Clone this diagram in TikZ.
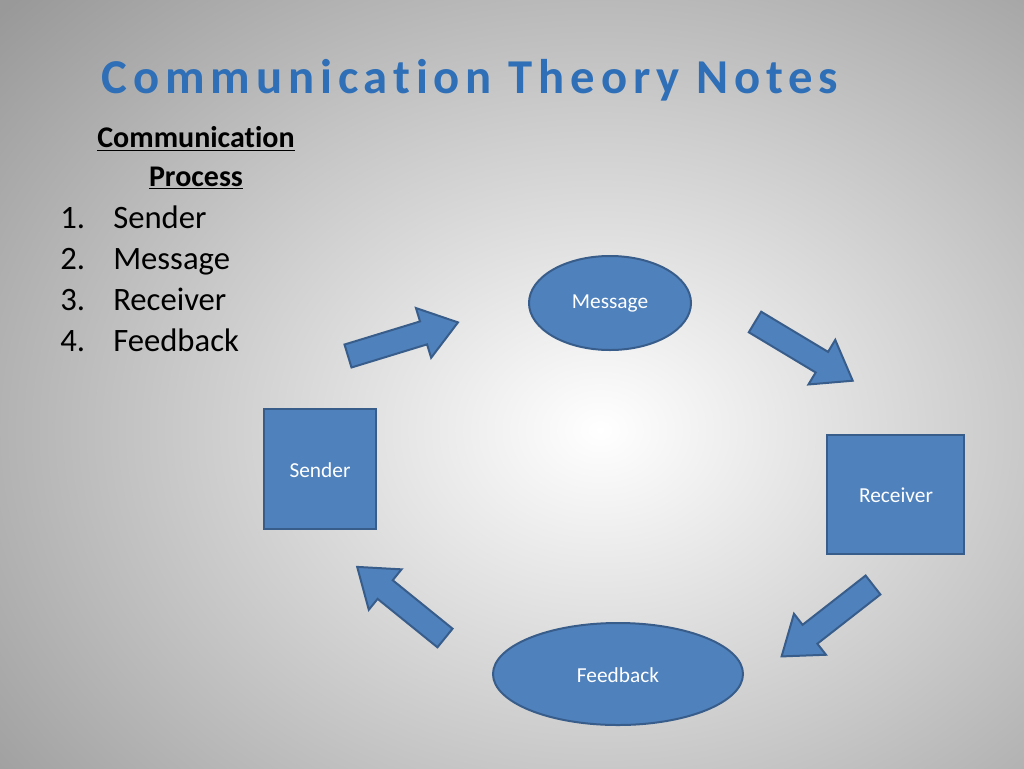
\documentclass[tikz,border=0pt]{standalone}
\usepackage{fontspec}
\setmainfont[Ligatures=NoCommon]{Carlito}
\newfontfamily\titlefont[LetterSpace=12,Ligatures=NoCommon]{Carlito}
\usetikzlibrary{calc}
\definecolor{boxfill}{HTML}{4F81BD}
\definecolor{boxline}{HTML}{385D8A}
\definecolor{titleblue}{HTML}{2E6FB7}
\tikzset{
  shapebox/.style={fill=boxfill,draw=boxline,line width=1.5pt},
  lbl/.style={text=white,font=\fontsize{16}{19}\selectfont},
  listtxt/.style={font=\fontsize{24.5}{28}\selectfont,anchor=base west,inner sep=0}
}
\newcommand{\blockarrow}[3]{%
  \draw[shapebox,shift={(#1)},rotate=#2] (0,-12)--(#3-36,-12)--(#3-36,-26)--(#3,0)--(#3-36,26)--(#3-36,12)--(0,12)--cycle;}
\begin{document}
\begin{tikzpicture}[x=0.75pt,y=-0.75pt]
\useasboundingbox (0,0) rectangle (1024,768);
\shade[inner color=white,outer color=black!40] (-200,-200) rectangle (1400,1060);
\node[font=\titlefont\bfseries\fontsize{36.5}{40}\selectfont,text=titleblue,inner sep=0] (title) at (470,80) {Communication Theory Notes};
\node[font=\bfseries\fontsize{22.5}{27}\selectfont,align=center,inner sep=0] (hdr) at (196,158) {\underline{Communication}\\[2pt]\underline{Process}};
\node[listtxt] (n1) at (60,228) {1.}; \node[listtxt] (i1) at (113,228) {Sender};
\node[listtxt] (n2) at (60,269) {2.}; \node[listtxt] (i2) at (113,269) {Message};
\node[listtxt] (n3) at (60,310) {3.}; \node[listtxt] (i3) at (113,310) {Receiver};
\node[listtxt] (n4) at (60,351) {4.}; \node[listtxt] (i4) at (113,351) {Feedback};
\draw[shapebox] (610,303) ellipse [x radius=81,y radius=47];
\node[lbl] (msg) at (610,303) {Message};
\draw[shapebox] (264,409) rectangle (376,529);
\node[lbl] (snd) at (320,470) {Sender};
\draw[shapebox] (827,435) rectangle (964,554);
\node[lbl] (rcv) at (896,495) {Receiver};
\draw[shapebox] (618,674) ellipse [x radius=125,y radius=51];
\node[lbl] (fb) at (618,675) {Feedback};
\coordinate (t1) at (348,356);
\coordinate (t2) at (755,322);
\coordinate (t3) at (873,585);
\coordinate (t4) at (445,638);
\blockarrow{t1}{17}{115}
\blockarrow{t2}{-31}{114}
\blockarrow{t3}{-142}{116}
\blockarrow{t4}{141}{113}
\end{tikzpicture}
\end{document}
